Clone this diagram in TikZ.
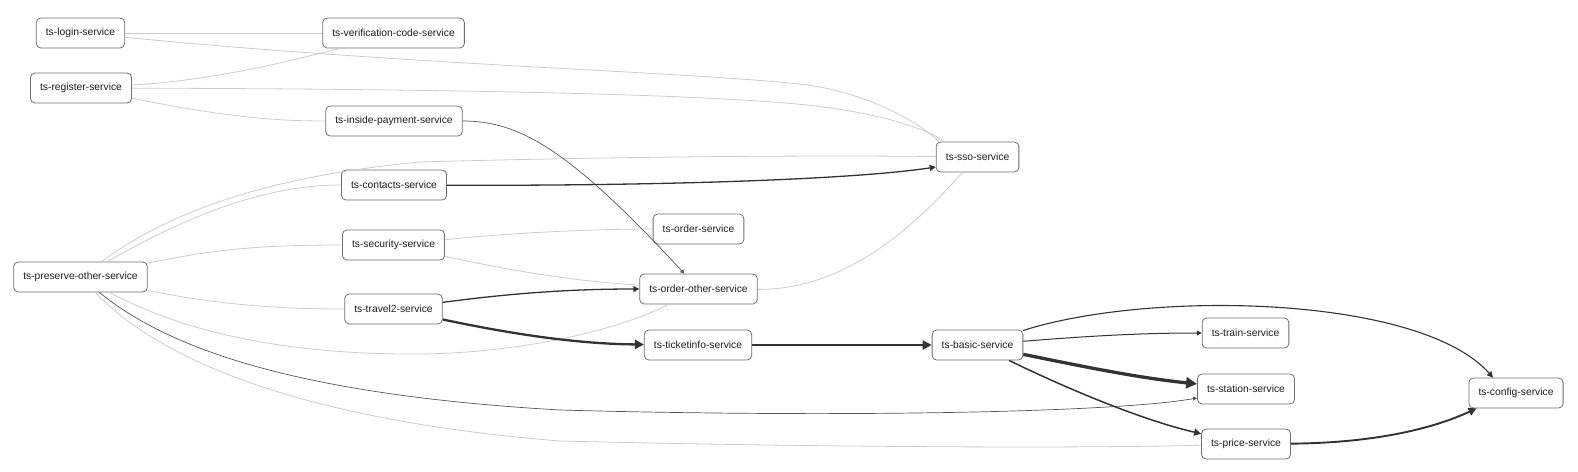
\documentclass[tikz,border=0pt]{standalone}
\usepackage{fontspec}
\setmainfont{Liberation Sans}
\usepackage{tikz}
\usetikzlibrary{arrows.meta}
\definecolor{edgefaint}{HTML}{CCCCCC}
\definecolor{edgemid}{HTML}{555555}
\definecolor{edgedark}{HTML}{333333}
\definecolor{boxline}{HTML}{6E6E6E}
\definecolor{boxtext}{HTML}{1E1E1E}
\tikzstyle{service}=[rectangle, rounded corners=4.5pt, draw=boxline, line width=0.8pt, fill=white, text=boxtext, minimum height=30pt, inner xsep=9.6pt, font=\fontsize{10.3}{12}\selectfont]
\tikzstyle{faint}=[draw=edgefaint, line width=0.8pt]
\tikzstyle{lean}=[draw=edgemid, line width=0.7pt, -{Triangle[length=4pt,width=4pt]}]
\tikzstyle{call}=[draw=edgedark, line width=1.3pt, -{Triangle[length=6pt,width=6pt]}]
\tikzstyle{heavy}=[draw=edgedark, line width=2.3pt, -{Triangle[length=9pt,width=9pt]}]
\tikzstyle{bulk}=[draw=edgedark, line width=3.3pt, -{Triangle[length=11pt,width=11pt]}]
\newcommand{\service}{\node[service]}

\begin{document}
\begin{tikzpicture}[x=1pt,y=-1pt]
\useasboundingbox (0,0) rectangle (1578,471);
\service (login) at (80.5,33) {ts-login-service};
\service (verif) at (393.5,33) {ts-verification-code-service};
\service (register) at (81,88) {ts-register-service};
\service (inpay) at (394,121) {ts-inside-payment-service};
\service (contacts) at (394,185) {ts-contacts-service};
\service (security) at (393.5,245) {ts-security-service};
\service (preserve) at (80.5,277) {ts-preserve-other-service};
\service (travel2) at (393.5,309) {ts-travel2-service};
\service (sso) at (977.5,157) {ts-sso-service};
\service (order) at (698.5,229) {ts-order-service};
\service (orderother) at (698.5,289) {ts-order-other-service};
\service (ticketinfo) at (698,345) {ts-ticketinfo-service};
\service (basic) at (977.5,345) {ts-basic-service};
\service (train) at (1245.5,333) {ts-train-service};
\service (station) at (1246,389) {ts-station-service};
\service (price) at (1246,444) {ts-price-service};
\service (config) at (1516,393) {ts-config-service};
% faint calls
\draw[faint] (login) -- (verif);
\draw[faint] (login) .. controls (420,66) and (700,72) .. (807,85) .. controls (860,92) and (915,118) .. ([xshift=3pt]sso.north west);
\draw[faint] (register) .. controls (220,80) and (300,58) .. ([xshift=18pt]verif.south west);
\draw[faint] (register) .. controls (450,89) and (700,94) .. (807,105) .. controls (870,112) and (920,125) .. ([xshift=9pt]sso.north west);
\draw[faint] (register) .. controls (230,118) and (280,121) .. (inpay);
\draw[faint] (preserve) .. controls (165,215) and (260,177) .. (420,162) .. controls (600,157) and (800,155) .. (sso);
\draw[faint] (preserve) .. controls (180,220) and (260,185) .. (contacts);
\draw[faint] (preserve) .. controls (220,248) and (270,245) .. (security);
\draw[faint] (security) .. controls (520,232) and (600,229) .. (order);
\draw[faint] (security) .. controls (530,275) and (590,282) .. (orderother);
\draw[faint] (preserve) .. controls (220,305) and (280,309) .. (travel2);
\draw[faint] (preserve) .. controls (180,330) and (280,355) .. (420,354) .. controls (520,353) and (620,330) .. ([xshift=29pt]orderother.south west);
\draw[faint] (orderother) .. controls (850,290) and (920,220) .. ([xshift=-15pt]sso.south);
\draw[faint] (preserve) .. controls (160,360) and (300,420) .. (560,441) .. controls (850,448) and (1100,448) .. (price);
% dark calls
\draw[lean] (inpay) .. controls (520,121) and (570,150) .. ([xshift=45pt]orderother.north west);
\draw[lean] (preserve) .. controls (170,350) and (300,395) .. (560,410) .. controls (850,418) and (1120,412) .. (station);
\draw[call] (contacts) .. controls (650,186) and (850,180) .. ([yshift=-10pt]sso.west);
\draw[call] (travel2) .. controls (520,292) and (580,289) .. (orderother);
\draw[heavy] (travel2) .. controls (530,338) and (590,344) .. (ticketinfo);
\draw[heavy] (ticketinfo) -- (basic);
\draw[call, line width=1pt, -{Triangle[length=5pt,width=5pt]}] (basic) .. controls (1100,335) and (1150,333) .. (train);
\draw[call, line width=1.1pt] (basic) .. controls (1150,290) and (1420,295) .. ([xshift=-23pt]config.north);
\draw[bulk] (basic) .. controls (1090,368) and (1140,378) .. (station);
\draw[call, line width=1.5pt, -{Triangle[length=7pt,width=7pt]}] (basic) .. controls (1080,395) and (1150,422) .. (price);
\draw[call, line width=1.9pt, -{Triangle[length=8pt,width=8pt]}] (price) .. controls (1370,443) and (1430,430) .. ([xshift=8pt]config.south west);
\end{tikzpicture}
\end{document}
